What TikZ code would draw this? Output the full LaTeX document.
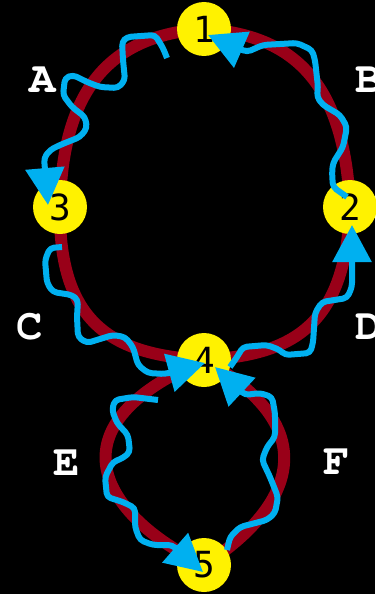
\documentclass[tikz,border=0pt]{standalone}
\usepackage{fontspec}
\newfontfamily\digitfont{DejaVu Sans Mono}
\newfontfamily\letterfont{texgyrecursor-bold.otf}
\usetikzlibrary{arrows.meta}

\definecolor{edgered}{RGB}{153,0,24}
\definecolor{flowblue}{RGB}{0,176,240}

\pgfdeclarelayer{backdrop}
\pgfdeclarelayer{edges}
\pgfsetlayers{backdrop,edges,main}

\begin{document}
\begin{tikzpicture}[x=1pt,y=-1pt,
  vertex/.style={circle,fill=yellow,minimum size=54pt,inner sep=0pt,
    font=\digitfont\fontsize{36}{36}\selectfont},
  lbl/.style={text=white,inner sep=0pt,font=\letterfont\fontsize{44}{44}\selectfont},
  edge/.style={draw=edgered,line width=12pt},
  flow/.style={draw=flowblue,line width=6pt,rounded corners=4pt,line join=round,
    -{Triangle[length=37pt,width=38pt]}}]

\begin{pgfonlayer}{backdrop}
  \fill[black] (0,0) rectangle (375,594);
\end{pgfonlayer}
\useasboundingbox (0,0) rectangle (375,594);

% vertices
\node[vertex] (n1) at (204,29) {1};
\node[vertex] (n2) at (350,207) {2};
\node[vertex] (n3) at (60,207) {3};
\node[vertex] (n4) at (204,360) {4};
\node[vertex] (n5) at (204,565) {5};

% edge labels
\node[lbl] (la) at (43,80) {A};
\node[lbl] (lb) at (369,80) {B};
\node[lbl] (lc) at (30,327) {C};
\node[lbl] (ld) at (369,327) {D};
\node[lbl] (le) at (67,463) {E};
\node[lbl] (lf) at (337,462) {F};

% edges of the graph
\begin{pgfonlayer}{edges}
  \draw[edge] (n1.center) .. controls (110,35) and (62,90) .. (n3.center);
  \draw[edge] (n1.center) .. controls (300,35) and (345,90) .. (n2.center);
  \draw[edge] (n3.center) .. controls (58,330) and (120,355) .. (n4.center);
  \draw[edge] (n2.center) .. controls (346,330) and (288,355) .. (n4.center);
  \draw[edge] (n4.center) .. controls (40,430) and (110,520) .. (n5.center);
  \draw[edge] (n4.center) .. controls (330,430) and (290,510) .. (n5.center);
\end{pgfonlayer}

% walk along the edges
\draw[flow] ([shift={(-37,29)}]n1.center) -- (163,48) -- (155,35) -- (127,37) -- (122,42)
  -- (123,60) -- (125,80) -- (118,88) -- (100,87) -- (87,82) -- (73,75) -- (65,78)
  -- (63,95) -- (72,107) -- (85,117) -- (87,128) -- (80,137) -- (60,145) -- (50,150)
  -- (44,158) -- ([shift={(-12,-2)}]n3.center);

\draw[flow] ([shift={(-3,-10)}]n2.center) -- (333,187) -- (332,173) -- (333,163) -- (343,147)
  -- (347,127) -- (340,115) -- (323,105) -- (317,97) -- (318,87) -- (315,60) -- (312,50)
  -- (297,43) -- (263,45) -- (247,52) -- ([shift={(4,6)}]n1.center);

\draw[flow] ([shift={(2,40)}]n3.center) -- (50,248) -- (45,260) -- (47,283) -- (53,292)
  -- (72,295) -- (78,300) -- (77,317) -- (78,337) -- (87,343) -- (113,335) -- (125,337)
  -- (133,347) -- (138,365) -- (148,373) -- (165,374) -- ([shift={(1,3)}]n4.center);

\draw[flow] ([shift={(26,7)}]n4.center) -- (237,357) -- (243,347) -- (267,345) -- (280,350)
  -- (285,355) -- (310,353) -- (313,343) -- (315,313) -- (322,302) -- (347,298)
  -- (352,287) -- ([shift={(2,18)}]n2.center);

\draw[flow] ([shift={(-46,40)}]n4.center) -- (133,397) -- (115,400) -- (112,410) -- (117,423)
  -- (128,435) -- (130,452) -- (123,458) -- (113,462) -- (105,477) -- (107,497)
  -- (123,502) -- (135,508) -- (135,527) -- (140,540) -- (153,545) -- (172,545)
  -- ([shift={(-1,7)}]n5.center);

\draw[flow] ([shift={(23,-15)}]n5.center) -- (230,537) -- (240,527) -- (267,520) -- (275,513)
  -- (278,497) -- (270,477) -- (262,460) -- (267,447) -- (275,437) -- (275,413)
  -- (272,397) -- (260,393) -- (245,395) -- ([shift={(11,7)}]n4.center);

\end{tikzpicture}
\end{document}
